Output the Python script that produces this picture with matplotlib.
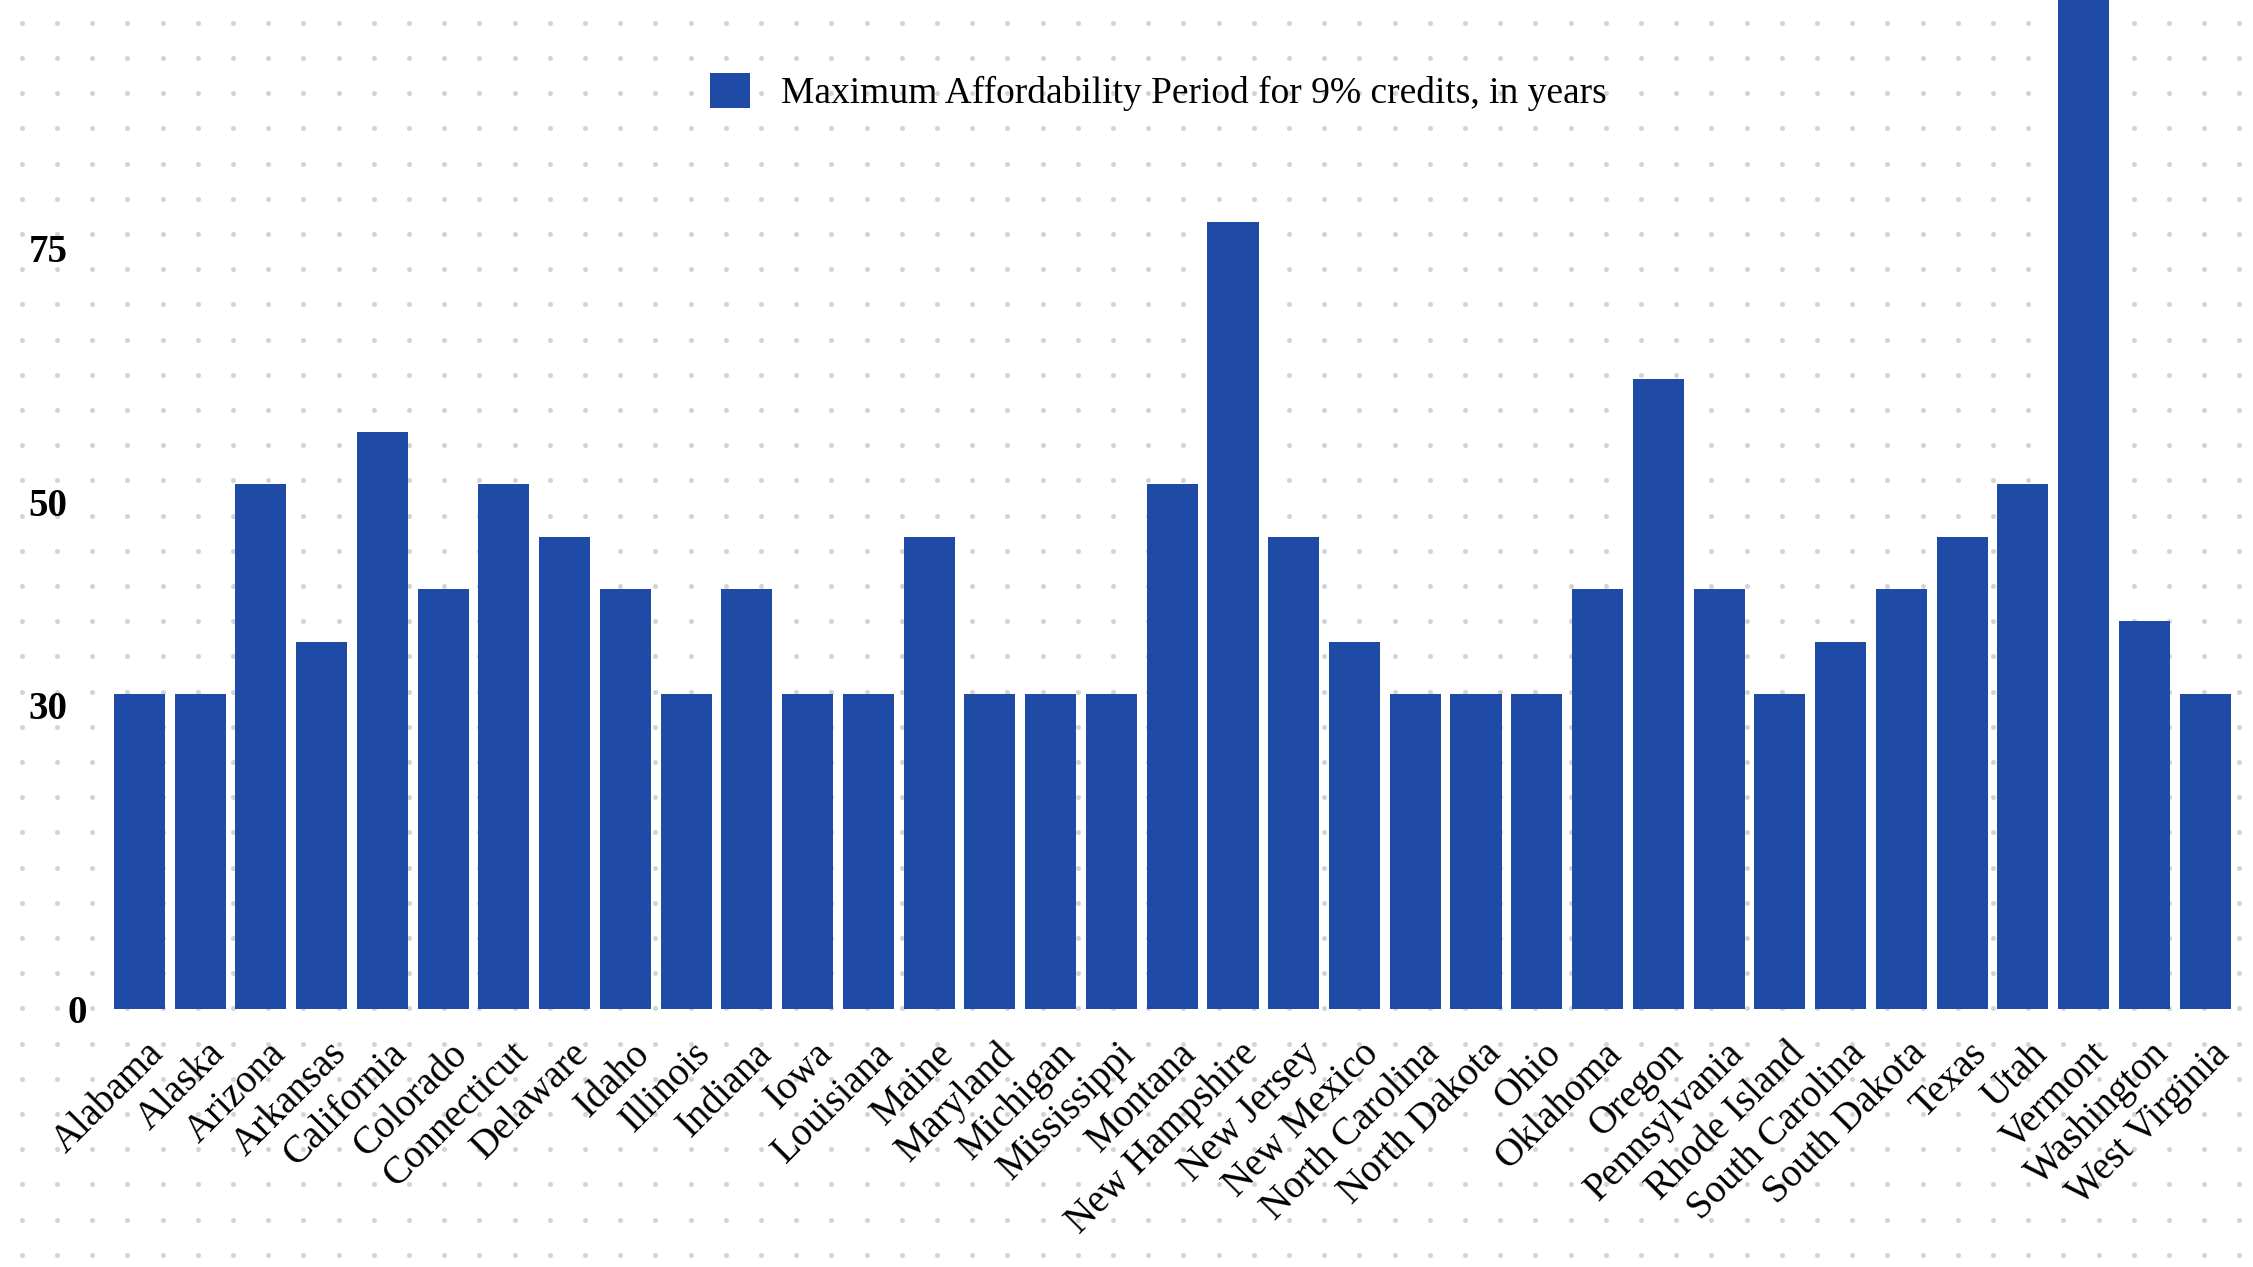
import matplotlib
matplotlib.use("Agg")
import matplotlib.pyplot as plt
import numpy as np
from matplotlib.transforms import ScaledTranslation

# ---------------- data ----------------
states = ["Alabama", "Alaska", "Arizona", "Arkansas", "California", "Colorado",
          "Connecticut", "Delaware", "Idaho", "Illinois", "Indiana", "Iowa",
          "Louisiana", "Maine", "Maryland", "Michigan", "Mississippi", "Montana",
          "New Hampshire", "New Jersey", "New Mexico", "North Carolina",
          "North Dakota", "Ohio", "Oklahoma", "Oregon", "Pennsylvania",
          "Rhode Island", "South Carolina", "South Dakota", "Texas", "Utah",
          "Vermont", "Washington", "West Virginia"]
years = [30, 30, 50, 35, 55, 40,
         50, 45, 40, 30, 40, 30,
         30, 45, 30, 30, 30, 50,
         75, 45, 35, 30,
         30, 30, 40, 60, 40,
         30, 35, 40, 45, 50,
         99, 37, 30]
legend_label = "Maximum Affordability Period for 9% credits, in years"
ytick_values = [0, 30, 50, 75]
ytick_labels = ["0", "30", "50", "75"]

# ---------------- style ----------------
W, H = 2253, 1267
BAR = "#1f4ba6"
DOT = "#d3d3d8"
SERIF = ["Liberation Serif", "DejaVu Serif"]

fig = plt.figure(figsize=(W / 100, H / 100), dpi=100)
fig.patch.set_facecolor("white")

# dotted background texture over the whole figure
bg = fig.add_axes([0, 0, 1, 1], zorder=0)
bg.set_xlim(0, W)
bg.set_ylim(H, 0)
bg.axis("off")
gx = np.arange(21.7, W, 35.2)
gy = np.arange(22.7, H, 35.2)
GX, GY = np.meshgrid(gx, gy)
bg.scatter(GX.ravel(), GY.ravel(), s=3.6 ** 2, color=DOT, linewidths=0)

rect = [0.0484, 0.2036, 0.9438, 0.7964]

# bars
ax = fig.add_axes(rect, zorder=1)
ax.patch.set_alpha(0)
x = np.arange(len(states))
ax.bar(x, years, width=0.84, color=BAR, label=legend_label)
ax.set_xlim(-0.5, len(states) - 0.5)
ax.set_ylim(0, 96.1)
for s in ax.spines.values():
    s.set_visible(False)
ax.set_yticks([])
ax.set_xticks(x)
ax.set_xticklabels(states, rotation=45, ha="right", va="top",
                   rotation_mode="anchor", fontsize=28, family=SERIF)
ax.tick_params(axis="x", length=0, pad=19)
shift = ScaledTranslation(6 / 100, 0, fig.dpi_scale_trans)
for lab in ax.get_xticklabels():
    lab.set_transform(lab.get_transform() + shift)

# value labels on the left
lab_ax = fig.add_axes(rect, zorder=2)
lab_ax.patch.set_alpha(0)
lab_ax.set_ylim(0, 99.5)
lab_ax.set_xticks([])
for s in lab_ax.spines.values():
    s.set_visible(False)
lab_ax.set_yticks(ytick_values)
lab_ax.set_yticklabels(ytick_labels, fontsize=28, fontweight="bold", family=SERIF)
lab_ax.tick_params(axis="y", length=0, pad=30)
zshift = ScaledTranslation(20 / 100, 0, fig.dpi_scale_trans)
for lab in lab_ax.get_yticklabels():
    if lab.get_text() == "0":
        lab.set_transform(lab.get_transform() + zshift)

# legend
leg = ax.legend(loc="center left", bbox_to_anchor=(710 / W, 1 - 92 / H),
                bbox_transform=fig.transFigure, frameon=False,
                prop={"family": SERIF, "size": 27},
                handlelength=1.07, handleheight=1.07, handletextpad=0.83,
                borderpad=0, borderaxespad=0)

fig.savefig("out.png", dpi=100, facecolor="white")
